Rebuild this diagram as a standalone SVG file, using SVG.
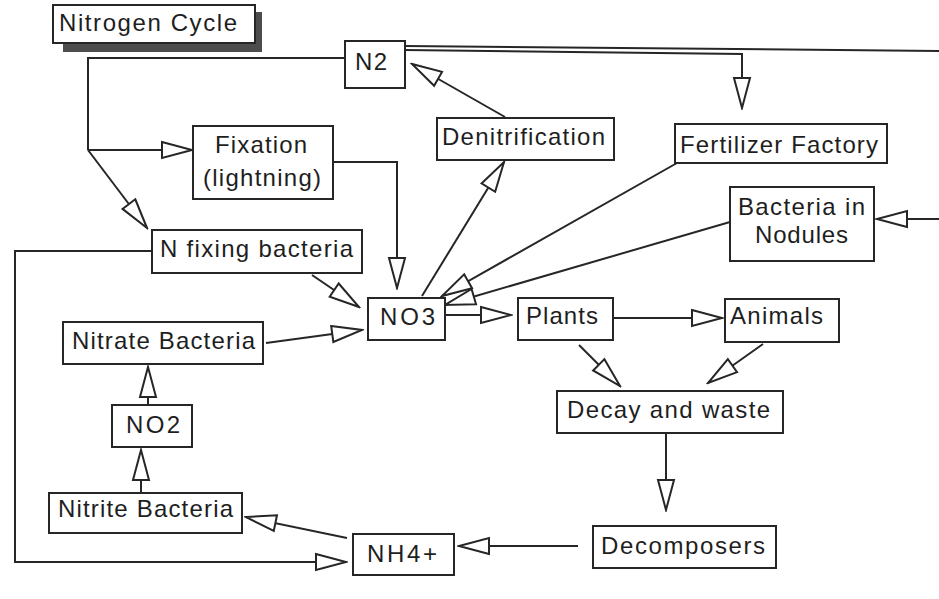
<svg xmlns="http://www.w3.org/2000/svg" width="939" height="599" viewBox="0 0 939 599">
  <style>
    .box { fill: #ffffff; stroke: #262626; stroke-width: 2; }
    .lbl { font-family: "Liberation Sans", Arial, sans-serif; font-size: 24px; fill: #1e1e1e; }
    .wire { fill: none; stroke: #262626; stroke-width: 2; }
    .arr { marker-end: url(#open); }
  </style>
  <defs>
    <marker id="open" markerUnits="userSpaceOnUse" markerWidth="34" markerHeight="20" refX="30" refY="8" orient="auto" viewBox="-2 -2 34 20">
      <path d="M0,0 L30,8 L0,16 Z" fill="#ffffff" stroke="#262626" stroke-width="2" stroke-linejoin="miter"/>
    </marker>
  </defs>
  <rect width="939" height="599" fill="#ffffff"/>

  <!-- connectors -->
  <g id="connectors">
    <path class="wire" d="M345,58 H88 V150"/>
    <path class="wire arr" d="M88,150 H192"/>
    <path class="wire arr" d="M88,150 L147,228"/>
    <path class="wire arr" d="M333,162 H397 V288"/>
    <path class="wire arr" d="M312,275 L359,307"/>
    <path class="wire arr" d="M152,251 H15 V562 H346"/>
    <path class="wire arr" d="M266,343 L362,330"/>
    <path class="wire arr" d="M148,405 V367"/>
    <path class="wire arr" d="M141,493 V450"/>
    <path class="wire arr" d="M347,538 L246,517"/>
    <path class="wire arr" d="M578,546 H459"/>
    <path class="wire arr" d="M666,434 V510"/>
    <path class="wire arr" d="M445,315 H511"/>
    <path class="wire arr" d="M613,318 H722"/>
    <path class="wire arr" d="M579,345 L620,386"/>
    <path class="wire arr" d="M763,344 L708,383"/>
    <path class="wire arr" d="M677,163 L442,296"/>
    <path class="wire arr" d="M730,222 L445,305"/>
    <path class="wire arr" d="M422,296 L504,162"/>
    <path class="wire arr" d="M505,117 L412,64"/>
    <path class="wire arr" d="M405,50 L742,54 V108"/>
    <path class="wire" d="M405,46 L939,51"/>
    <path class="wire arr" d="M939,219 H877"/>
  </g>

  <!-- title -->
  <g id="title">
    <rect x="63" y="43" width="199" height="9" fill="#4d4d4d"/>
    <rect x="255" y="12" width="7" height="40" fill="#4d4d4d"/>
    <rect class="box" x="53" y="5" width="202" height="38"/>
    <text class="lbl" x="59" y="31" textLength="178" lengthAdjust="spacing">Nitrogen Cycle</text>
  </g>

  <g id="n2">
    <rect class="box" x="345" y="41" width="60" height="47"/>
    <text class="lbl" x="355" y="70" textLength="32" lengthAdjust="spacing">N2</text>
  </g>

  <g id="fixation">
    <rect class="box" x="193" y="126" width="140" height="73"/>
    <text class="lbl" x="215" y="153" textLength="92" lengthAdjust="spacing">Fixation</text>
    <text class="lbl" x="203" y="186" textLength="118" lengthAdjust="spacing">(lightning)</text>
  </g>

  <g id="denitrification">
    <rect class="box" x="437" y="118" width="177" height="42"/>
    <text class="lbl" x="442" y="145" textLength="163" lengthAdjust="spacing">Denitrification</text>
  </g>

  <g id="fertilizer">
    <rect class="box" x="675" y="124" width="212" height="39"/>
    <text class="lbl" x="680" y="153" textLength="198" lengthAdjust="spacing">Fertilizer Factory</text>
  </g>

  <g id="nodules">
    <rect class="box" x="730" y="187" width="144" height="74"/>
    <text class="lbl" x="738" y="215" textLength="127" lengthAdjust="spacing">Bacteria in</text>
    <text class="lbl" x="755" y="243" textLength="93" lengthAdjust="spacing">Nodules</text>
  </g>

  <g id="n-fixing">
    <rect class="box" x="152" y="230" width="210" height="43"/>
    <text class="lbl" x="160" y="257" textLength="193" lengthAdjust="spacing">N fixing bacteria</text>
  </g>

  <g id="no3">
    <rect class="box" x="368" y="298" width="77" height="42"/>
    <text class="lbl" x="380" y="325" textLength="55" lengthAdjust="spacing">NO3</text>
  </g>

  <g id="plants">
    <rect class="box" x="518" y="298" width="95" height="42"/>
    <text class="lbl" x="526" y="324" textLength="72" lengthAdjust="spacing">Plants</text>
  </g>

  <g id="animals">
    <rect class="box" x="725" y="299" width="114" height="43"/>
    <text class="lbl" x="730" y="324" textLength="93" lengthAdjust="spacing">Animals</text>
  </g>

  <g id="nitrate-bacteria">
    <rect class="box" x="63" y="322" width="200" height="42"/>
    <text class="lbl" x="72" y="349" textLength="183" lengthAdjust="spacing">Nitrate Bacteria</text>
  </g>

  <g id="decay">
    <rect class="box" x="557" y="391" width="226" height="42"/>
    <text class="lbl" x="567" y="418" textLength="203" lengthAdjust="spacing">Decay and waste</text>
  </g>

  <g id="no2">
    <rect class="box" x="112" y="405" width="80" height="42"/>
    <text class="lbl" x="126" y="433" textLength="54" lengthAdjust="spacing">NO2</text>
  </g>

  <g id="nitrite-bacteria">
    <rect class="box" x="49" y="493" width="193" height="40"/>
    <text class="lbl" x="58" y="517" textLength="175" lengthAdjust="spacing">Nitrite Bacteria</text>
  </g>

  <g id="nh4">
    <rect class="box" x="353" y="534" width="101" height="41"/>
    <text class="lbl" x="367" y="562" textLength="70" lengthAdjust="spacing">NH4+</text>
  </g>

  <g id="decomposers">
    <rect class="box" x="593" y="526" width="183" height="42"/>
    <text class="lbl" x="601" y="554" textLength="164" lengthAdjust="spacing">Decomposers</text>
  </g>
</svg>
